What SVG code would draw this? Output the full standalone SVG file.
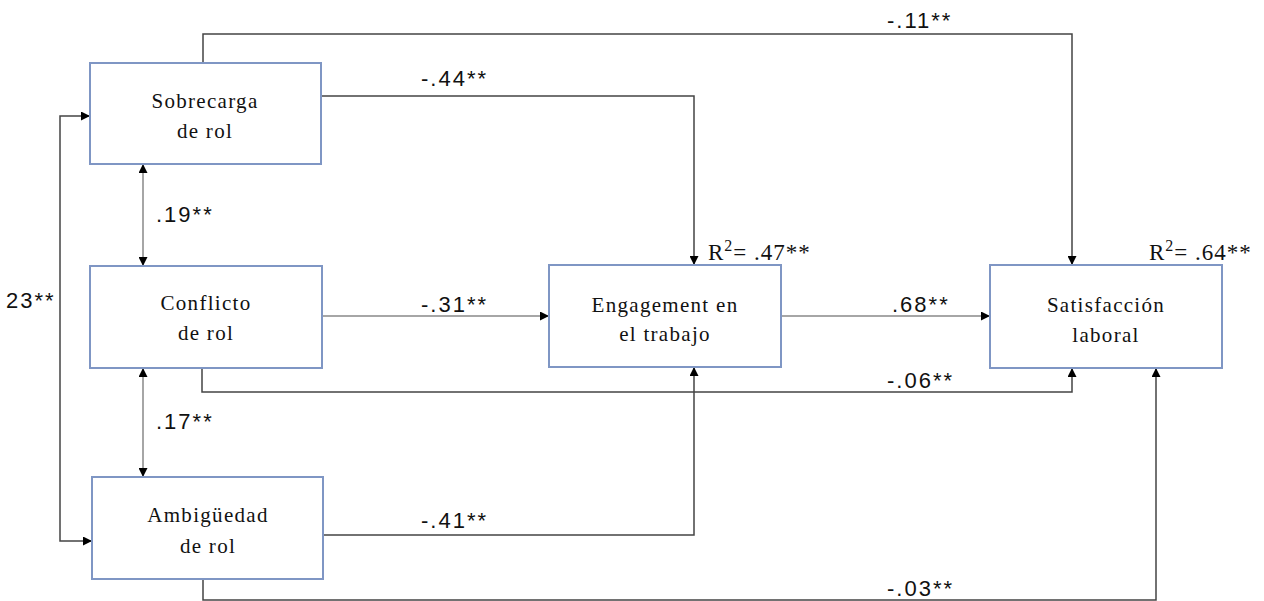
<svg xmlns="http://www.w3.org/2000/svg" width="1264" height="601" viewBox="0 0 1264 601">
<style>
.box{fill:#fff;stroke:#7f96c4;stroke-width:2}
.bt{font-family:"Liberation Serif",serif;font-size:21px;letter-spacing:1.3px;fill:#111;text-anchor:middle}
.lb{font-family:"Liberation Sans",sans-serif;font-size:22px;letter-spacing:2px;fill:#111}
.rs{font-family:"Liberation Serif",serif;font-size:23px;letter-spacing:1px;fill:#111}
.c{fill:none;stroke:#444;stroke-width:1.5}
.cl{fill:none;stroke:#888;stroke-width:1.5}
</style>
<defs>
<marker id="a" viewBox="0 0 10 10" refX="10" refY="5" markerWidth="9" markerHeight="9" markerUnits="userSpaceOnUse" orient="auto-start-reverse">
<path d="M0,0 L10,5 L0,10 z" fill="#000"/>
</marker>
</defs>
<g id="connectors">
<path class="c" d="M203,63 V34 H1072 V265" marker-end="url(#a)"/>
<path class="c" d="M321,96 H694 V265" marker-end="url(#a)"/>
<path class="cl" d="M322,316 H549" marker-end="url(#a)"/>
<path class="cl" d="M781,316 H990" marker-end="url(#a)"/>
<path class="c" d="M202,368 V392 H1072 V368" marker-end="url(#a)"/>
<path class="c" d="M323,535 H694 V367" marker-end="url(#a)"/>
<path class="c" d="M203,579 V600 H1156 V368" marker-end="url(#a)"/>
<path class="cl" d="M143,164 V266" marker-start="url(#a)" marker-end="url(#a)"/>
<path class="cl" d="M143,368 V477" marker-start="url(#a)" marker-end="url(#a)"/>
<path class="c" d="M90,116 H60 V541 H92" marker-start="url(#a)" marker-end="url(#a)"/>
</g>
<g id="labels">
<text class="lb" x="887" y="28">-.11**</text>
<text class="lb" x="421" y="86">-.44**</text>
<text class="lb" x="156" y="222">.19**</text>
<text class="lb" x="6" y="308">23**</text>
<text class="lb" x="421" y="312">-.31**</text>
<text class="lb" x="892" y="312">.68**</text>
<text class="lb" x="887" y="388">-.06**</text>
<text class="lb" x="156" y="429">.17**</text>
<text class="lb" x="421" y="528">-.41**</text>
<text class="lb" x="887" y="596">-.03**</text>
<text class="rs" x="708" y="260">R<tspan dy="-9" font-size="16">2</tspan><tspan dy="9">= .47**</tspan></text>
<text class="rs" x="1149" y="260">R<tspan dy="-9" font-size="16">2</tspan><tspan dy="9">= .64**</tspan></text>
</g>
<g id="sobrecarga">
<rect class="box" x="90" y="63" width="231" height="101"/>
<text class="bt" x="205" y="108">Sobrecarga</text>
<text class="bt" x="205" y="138">de rol</text>
</g>
<g id="conflicto">
<rect class="box" x="90" y="266" width="232" height="102"/>
<text class="bt" x="206" y="310">Conflicto</text>
<text class="bt" x="206" y="340">de rol</text>
</g>
<g id="ambiguedad">
<rect class="box" x="92" y="477" width="231" height="102"/>
<text class="bt" x="208" y="522">Ambigüedad</text>
<text class="bt" x="208" y="553">de rol</text>
</g>
<g id="engagement">
<rect class="box" x="549" y="265" width="232" height="102"/>
<text class="bt" x="665" y="312">Engagement en</text>
<text class="bt" x="665" y="341">el trabajo</text>
</g>
<g id="satisfaccion">
<rect class="box" x="990" y="265" width="232" height="103"/>
<text class="bt" x="1106" y="312">Satisfacción</text>
<text class="bt" x="1106" y="342">laboral</text>
</g>
</svg>
